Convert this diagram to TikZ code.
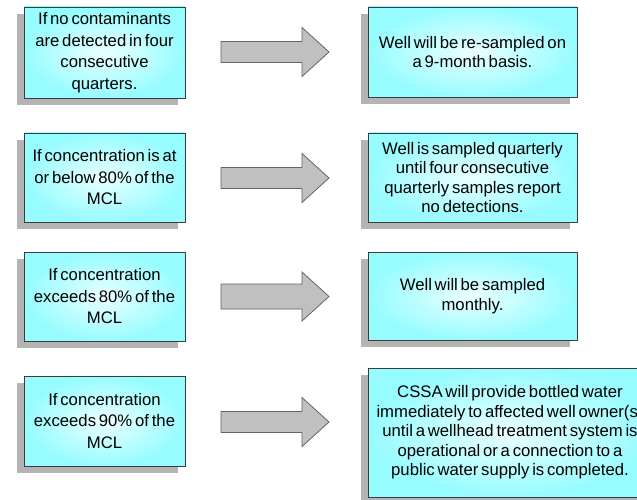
\documentclass[tikz,border=0pt]{standalone}
\usepackage{fontspec}
\setmainfont{Liberation Sans}[WordSpace=0.6]
\usepackage{xcolor}
\usepackage{tikz}
\usetikzlibrary{shadows}
\definecolor{boxedge}{RGB}{150,252,255}
\definecolor{boxmid}{RGB}{235,255,255}
\definecolor{boxline}{RGB}{60,60,60}
\definecolor{shadowgray}{RGB}{180,180,180}
\definecolor{arrowgray}{RGB}{192,192,192}
\definecolor{arrowline}{RGB}{100,100,100}
\tikzset{
  condbox/.style={draw=boxline, line width=0.8pt, shading=radial,
    inner color=boxmid, outer color=boxedge,
    drop shadow={shadow xshift=-7pt, shadow yshift=-7pt, fill=shadowgray, opacity=1},
    align=center, inner sep=0pt, font=\fontsize{16.7}{21.5}\selectfont,
    minimum width=161pt},
  actbox/.style={condbox, font=\fontsize{16.7}{19.5}\selectfont, minimum width=209pt},
  barrow/.style={draw=arrowline, line width=0.8pt, fill=arrowgray}
}
\begin{document}
\begin{tikzpicture}[x=1pt,y=-1pt]
\useasboundingbox (0,0) rectangle (637,500);
% conditions
\node[condbox, minimum height=91pt] (c1) at (104.5,52.5) {If no contaminants\\are detected in four\\consecutive\\quarters.};
\node[condbox, minimum height=89pt] (c2) at (104.5,177.5) {If concentration is at\\or below 80\% of the\\MCL};
\node[condbox, minimum height=89pt] (c3) at (104.5,296.5) {If concentration\\exceeds 80\% of the\\MCL};
\node[condbox, minimum height=90pt] (c4) at (104.5,421) {If concentration\\exceeds 90\% of the\\MCL};
% actions
\node[actbox, minimum height=90pt] (a1) at (472.5,52) {Well will be re-sampled on\\a 9-month basis.};
\node[actbox, minimum height=89pt] (a2) at (472.5,177.5) {Well is sampled quarterly\\until four consecutive\\quarterly samples report\\no detections.};
\node[actbox, minimum height=88pt] (a3) at (472.5,296) {Well will be sampled\\monthly.};
\node[actbox, minimum width=284pt, minimum height=129pt] (a4) at (510,432.5) {CSSA will provide bottled water\\immediately to affected well owner(s)\\until a wellhead treatment system is\\operational or a connection to a\\public water supply is completed.};
% block arrows
\draw[barrow](221,41.5)--++(81,0)--++(0,-14)--++(27,24.5)--++(-27,24.5)--++(0,-14)--++(-81,0)--cycle;
\draw[barrow](221,167.5)--++(81,0)--++(0,-14)--++(27,24.5)--++(-27,24.5)--++(0,-14)--++(-81,0)--cycle;
\draw[barrow](221,284)--++(81,0)--++(0,-12)--++(27,24.5)--++(-27,24.5)--++(0,-12)--++(-81,0)--cycle;
\draw[barrow](221,411.5)--++(81,0)--++(0,-14)--++(27,24.5)--++(-27,24.5)--++(0,-14)--++(-81,0)--cycle;
\end{tikzpicture}
\end{document}
